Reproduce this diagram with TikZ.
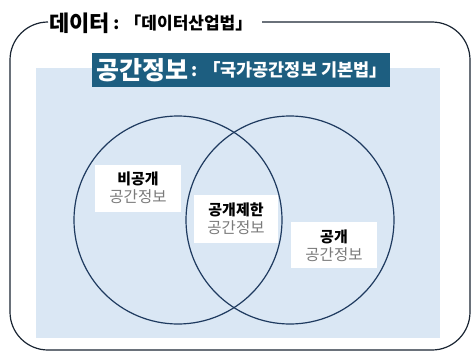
\documentclass[tikz,border=0pt]{standalone}
\usepackage{fontspec}
\setmainfont{Noto Sans CJK KR}
\definecolor{lightbg}{HTML}{DAE7F4}
\definecolor{titlebox}{HTML}{1D5E80}
\definecolor{navy}{HTML}{1E3A5F}
\definecolor{outer}{HTML}{1A2533}
\definecolor{graytext}{HTML}{7A7A7A}
\tikzset{
  labelbox/.style={fill=white, inner sep=0pt, align=center, minimum width=86pt, minimum height=47pt},
  venn/.style={draw=navy, line width=1.2pt},
  toplabel/.style={font=\fontsize{15}{18}\selectfont\bfseries},
  sublabel/.style={text=graytext, font=\fontsize{15.5}{18}\selectfont}
}
\begin{document}
\begin{tikzpicture}[x=1pt, y=-1pt]
\useasboundingbox (0,0) rectangle (471,353);
% outer rounded frame
\draw[outer, line width=1.2pt, rounded corners=38pt] (262,22) -- (470,22) -- (470,350) -- (10,350) -- (10,22) -- (48,22);
% light background
\fill[lightbg] (36,68) rectangle (440,338);
% title box
\fill[titlebox] (92,53) rectangle (390,87);
\node[anchor=west, text=white, inner sep=0pt] (t2a) at (96,70) {\fontsize{25}{25}\selectfont\bfseries 공간정보};
\node[anchor=west, text=white, inner sep=0pt] (t2b) at ([xshift=3pt]t2a.east) {\fontsize{17.5}{17.5}\selectfont\bfseries : 「국가공간정보 기본법」};
% top title
\node[anchor=west, inner sep=0pt] (t1a) at (49,23) {\fontsize{22}{22}\selectfont\bfseries 데이터};
\node[anchor=west, inner sep=0pt] (t1b) at ([xshift=3pt]t1a.east) {\fontsize{17}{17}\selectfont\bfseries : 「데이터산업법」};
% circles
\draw[venn] (178,220) circle[radius=104];
\draw[venn] (290,220) circle[radius=104];
% label boxes
\node[labelbox] (b1) at (138,188.5) {};
\node[toplabel] at (138,179) {비공개};
\node[sublabel] at (138,197) {공간정보};
\node[labelbox, minimum width=84pt, minimum height=48pt] (b2) at (236,219) {};
\node[toplabel] at (236,210) {공개제한};
\node[sublabel] at (236,228) {공간정보};
\node[labelbox, minimum height=46pt] (b3) at (334,245) {};
\node[toplabel] at (334,237) {공개};
\node[sublabel] at (334,255) {공간정보};
\end{tikzpicture}
\end{document}
